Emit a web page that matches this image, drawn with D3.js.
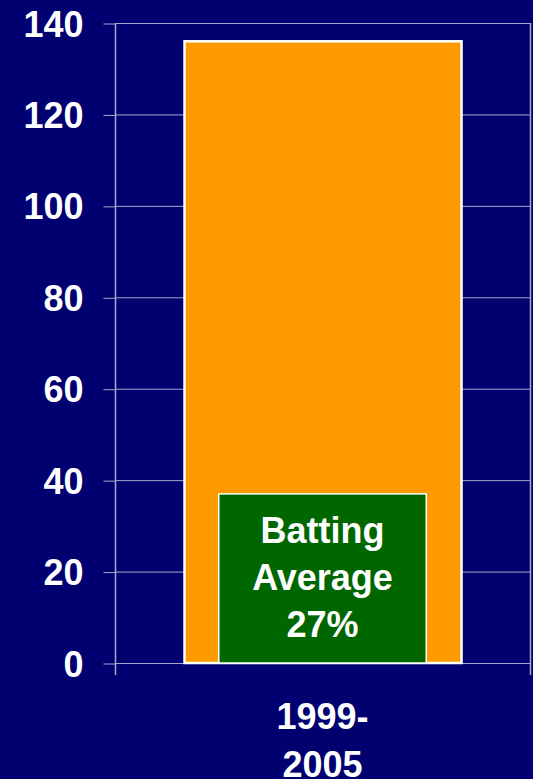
<!DOCTYPE html>
<html><head><meta charset="utf-8">
<script src="https://cdn.jsdelivr.net/npm/d3@7"></script>
<style>html,body{margin:0;padding:0;background:#000070;}svg{display:block;}</style>
</head><body>
<svg id="c" width="533" height="779"></svg>
<script>
const categories = ["1999-2005"];
const categoryLines = [["1999-", "2005"]];
const totalValues = [136];
const hitValues = [37];
const hitLabel = ["Batting", "Average", "27%"];
const yTicks = [0, 20, 40, 60, 80, 100, 120, 140];

const svg = d3.select("#c");
const W = 533, H = 779;
const m = {left: 115, right: 3, top: 23, bottom: 116};
const x = d3.scaleBand().domain(categories).range([m.left, W - m.right]).padding(0);
const y = d3.scaleLinear().domain([0, 140]).range([H - m.bottom, m.top]);
const grid = "#a8a8cc";
const font = "Liberation Sans, Arial, sans-serif";

svg.append("rect").attr("width", W).attr("height", H).attr("fill", "#000070");

// gridlines
svg.append("g").selectAll("line").data(yTicks).join("line")
  .attr("x1", m.left).attr("x2", W - m.right)
  .attr("y1", d => y(d) + 0.5).attr("y2", d => y(d) + 0.5)
  .attr("stroke", grid).attr("stroke-width", 1);

// y axis
const ya = svg.append("g").attr("transform", `translate(${m.left + 0.5},0)`)
  .call(d3.axisLeft(y).tickValues(yTicks).tickSize(12).tickPadding(20).tickSizeOuter(0));
ya.select(".domain").remove();
ya.selectAll(".tick line").attr("stroke", grid).attr("transform", "translate(0,0.5)");
ya.selectAll(".tick text").attr("fill", "#fff").attr("font-family", font)
  .attr("font-weight", "bold").attr("font-size", 36).attr("dy", 13);

// vertical frame lines (axis + category boundaries)
const xEdges = [x.range()[0], x.range()[1]];
svg.append("g").selectAll("line").data(xEdges).join("line")
  .attr("x1", d => d + 0.5).attr("x2", d => d + 0.5)
  .attr("y1", y(140)).attr("y2", y(0) + 12)
  .attr("stroke", grid).attr("stroke-width", 1.5);

// orange total bar
const bw = x.bandwidth();
svg.append("g").selectAll("rect").data(categories).join("rect")
  .attr("x", d => x(d) + bw * 0.1675).attr("width", bw * 0.6675)
  .attr("y", (d, i) => y(totalValues[i])).attr("height", (d, i) => y(0) - y(totalValues[i]))
  .attr("fill", "#ff9900").attr("stroke", "#fff").attr("stroke-width", 2.5);

// green hit bar
svg.append("g").selectAll("rect").data(categories).join("rect")
  .attr("x", d => x(d) + bw * 0.25).attr("width", bw * 0.5)
  .attr("y", (d, i) => y(hitValues[i])).attr("height", (d, i) => y(0) - y(hitValues[i]))
  .attr("fill", "#006600").attr("stroke", "#fff").attr("stroke-width", 1.5);

// label inside green bar
const cx = x(categories[0]) + bw / 2;
svg.append("g").selectAll("text").data(hitLabel).join("text")
  .attr("x", cx).attr("y", (d, i) => 543 + i * 47)
  .attr("text-anchor", "middle").attr("fill", "#fff")
  .attr("font-family", font).attr("font-weight", "bold").attr("font-size", 36)
  .text(d => d);

// category label
svg.append("g").selectAll("text").data(categoryLines[0]).join("text")
  .attr("x", cx).attr("y", (d, i) => 729 + i * 48)
  .attr("text-anchor", "middle").attr("fill", "#fff")
  .attr("font-family", font).attr("font-weight", "bold").attr("font-size", 36)
  .text(d => d);
</script>
</body></html>
